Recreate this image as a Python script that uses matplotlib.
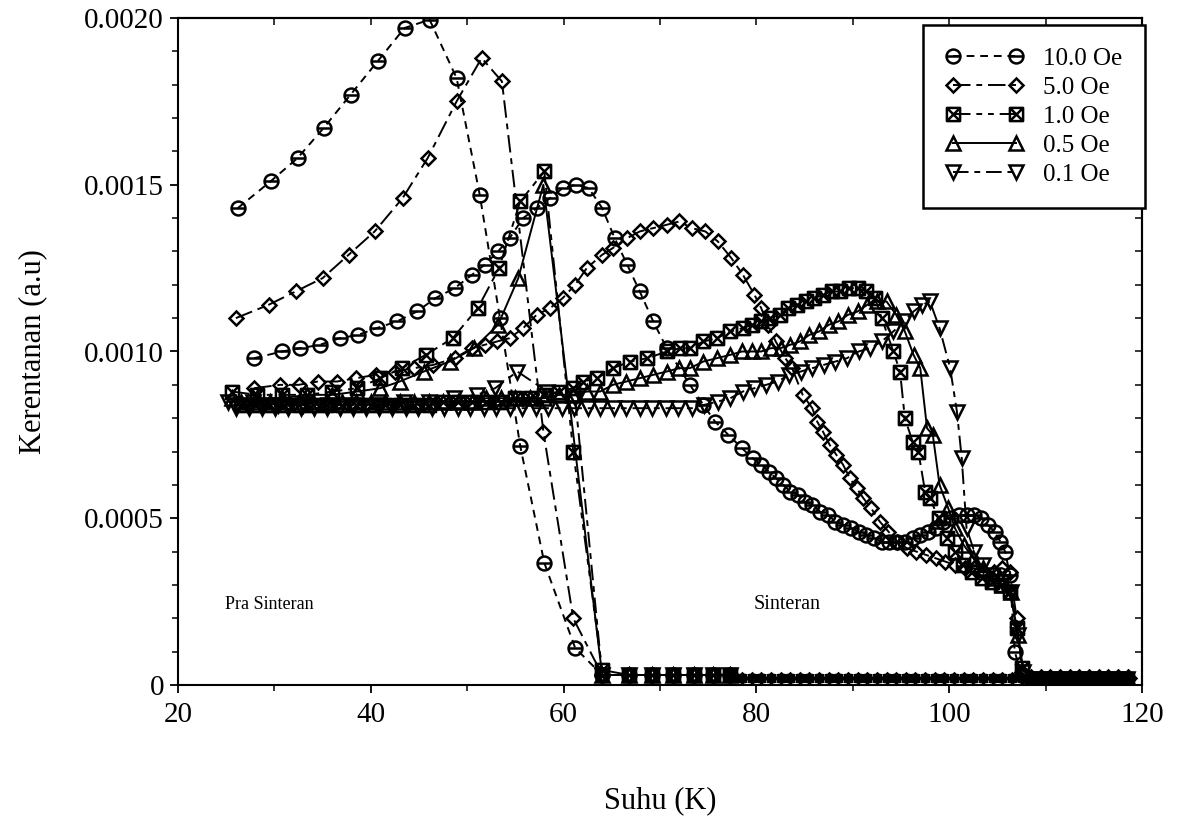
import numpy as np
import matplotlib
matplotlib.use("Agg")
import matplotlib.pyplot as plt
from matplotlib.path import Path
from matplotlib.ticker import MultipleLocator, FuncFormatter

# ---------------- data (susceptibility values in units of 1e-3 a.u.) ----------------
LABELS = ["10.0 Oe", "5.0 Oe", "1.0 Oe", "0.5 Oe", "0.1 Oe"]

# Pra Sinteran (pre-sintering) curves
PRE_10_T = [26.2, 29.6, 32.4, 35.1, 37.9, 40.7, 43.5, 46.1, 48.9, 51.3, 53.4, 55.5, 58.0, 61.2, 64.0]
PRE_10_Y = [1.43, 1.51, 1.58, 1.67, 1.77, 1.87, 1.97, 1.995, 1.82, 1.47, 1.10, 0.717, 0.366, 0.111, 0.03]

PRE_5_T = [26.0, 29.4, 32.2, 35.0, 37.7, 40.4, 43.3, 45.9, 48.9, 51.5, 53.6, 57.9, 61.0, 64.0]
PRE_5_Y = [1.10, 1.14, 1.18, 1.22, 1.29, 1.36, 1.46, 1.58, 1.75, 1.88, 1.81, 0.76, 0.20, 0.03]

PRE_1_T = [25.6, 28.2, 30.8, 33.4, 36.0, 38.6, 41.0, 43.2, 45.7, 48.5, 51.1, 53.3, 55.5, 58.0, 61.0, 64.0]
PRE_1_Y = [0.88, 0.87, 0.87, 0.87, 0.88, 0.89, 0.92, 0.95, 0.99, 1.04, 1.13, 1.25, 1.45, 1.54, 0.70, 0.045]

PRE_05_T = [25.6, 28.2, 30.8, 33.4, 36.0, 38.6, 41.0, 43.0, 45.5, 48.2, 50.7, 53.2, 55.3, 57.9, 64.0]
PRE_05_Y = [0.86, 0.86, 0.86, 0.87, 0.87, 0.88, 0.89, 0.91, 0.94, 0.97, 1.01, 1.08, 1.22, 1.50, 0.03]

PRE_01_T = [25.2, 27.8, 30.4, 33.0, 35.6, 38.2, 40.8, 43.4, 46.0, 48.6, 51.0, 52.9, 55.2, 58.3, 61.2, 64.0]
PRE_01_Y = [0.85, 0.85, 0.84, 0.84, 0.84, 0.84, 0.84, 0.85, 0.85, 0.86, 0.87, 0.89, 0.94, 0.88, 0.86, 0.03]

PRE_TAIL_T = [66.8, 69.2, 71.4, 73.5, 75.5, 77.3]
PRE_TAIL_Y = [0.03, 0.03, 0.03, 0.03, 0.03, 0.03]

# Sinteran (sintered) curves
S10_T = [27.9, 30.8, 32.7, 34.7, 36.8, 38.7, 40.6, 42.7, 44.8, 46.7,
         48.7, 50.5, 51.8, 53.2, 54.4, 55.8, 57.2, 58.6, 59.9, 61.3,
         62.6, 64.0, 65.3, 66.6, 67.9, 69.3, 70.7, 73.1, 74.5, 75.7,
         77.1, 78.5, 79.6, 80.5, 81.3, 82.0, 82.8, 83.5, 84.3, 85.0,
         85.8, 86.6, 87.4, 88.2, 89.0, 89.8, 90.6, 91.4, 92.2, 93.0,
         93.8, 94.6, 95.4, 96.2, 97.0, 97.8, 98.6, 99.4, 100.2, 101.0,
         101.8, 102.6, 103.3, 104.0, 104.7, 105.3, 105.8, 106.3, 106.8, 107.5]
S10_Y = [0.98, 1.00, 1.01, 1.02, 1.04, 1.05, 1.07, 1.09, 1.12, 1.16,
         1.19, 1.23, 1.26, 1.30, 1.34, 1.40, 1.43, 1.46, 1.49, 1.50,
         1.49, 1.43, 1.34, 1.26, 1.18, 1.09, 1.01, 0.90, 0.84, 0.79,
         0.75, 0.71, 0.68, 0.66, 0.64, 0.62, 0.60, 0.58, 0.57, 0.55,
         0.54, 0.52, 0.51, 0.49, 0.48, 0.47, 0.46, 0.45, 0.44, 0.43,
         0.43, 0.43, 0.43, 0.44, 0.45, 0.46, 0.47, 0.49, 0.50, 0.51,
         0.51, 0.51, 0.50, 0.48, 0.46, 0.43, 0.40, 0.33, 0.10, 0.03]

S5_T = [27.9, 30.6, 32.5, 34.5, 36.5, 38.5, 40.5, 42.5, 44.5, 46.5,
        48.7, 50.5, 51.8, 53.1, 54.4, 55.8, 57.2, 58.6, 59.9, 61.2,
        62.4, 64.0, 65.1, 66.6, 67.9, 69.3, 70.7, 72.0, 73.3, 74.7,
        76.0, 77.4, 78.6, 79.8, 80.5, 81.2, 82.0, 83.0, 83.7, 84.8,
        85.8, 86.3, 86.9, 87.6, 88.3, 89.0, 89.7, 90.4, 91.1, 91.9,
        92.8, 93.7, 94.6, 95.6, 96.6, 97.6, 98.6, 99.6, 100.6, 101.6,
        102.6, 103.6, 104.6, 105.5, 106.3, 107.0, 107.6]
S5_Y = [0.89, 0.90, 0.90, 0.91, 0.91, 0.92, 0.93, 0.94, 0.95, 0.96,
        0.98, 1.01, 1.02, 1.03, 1.04, 1.07, 1.11, 1.13, 1.16, 1.20,
        1.25, 1.29, 1.31, 1.34, 1.36, 1.37, 1.38, 1.39, 1.37, 1.36,
        1.33, 1.28, 1.23, 1.17, 1.13, 1.08, 1.03, 0.98, 0.95, 0.87,
        0.83, 0.79, 0.76, 0.72, 0.69, 0.66, 0.62, 0.59, 0.56, 0.53,
        0.49, 0.46, 0.43, 0.41, 0.40, 0.39, 0.38, 0.37, 0.36, 0.35,
        0.35, 0.34, 0.34, 0.35, 0.34, 0.20, 0.04]

S1_T = [26.5, 28.0, 29.5, 31.0, 32.5, 34.0, 35.5, 37.0, 38.5, 40.0,
        41.5, 43.0, 44.5, 46.0, 47.5, 49.0, 50.5, 52.0, 53.5, 55.0,
        56.5, 58.0, 59.5, 61.0, 62.0, 63.5, 65.1, 66.9, 68.7, 70.7,
        72.1, 73.1, 74.5, 75.9, 77.3, 78.6, 79.5, 80.5, 81.4, 82.4,
        83.3, 84.2, 85.1, 86.0, 86.9, 87.8, 88.7, 89.6, 90.5, 91.4,
        92.3, 93.0, 94.2, 94.9, 95.4, 96.2, 96.8, 97.5, 98.0, 98.9,
        99.8, 100.6, 101.4, 102.4, 103.4, 104.4, 105.4, 106.3, 107.0, 107.6]
S1_Y = [0.84, 0.84, 0.84, 0.84, 0.84, 0.84, 0.84, 0.84, 0.84, 0.84,
        0.84, 0.84, 0.84, 0.84, 0.85, 0.85, 0.85, 0.85, 0.85, 0.86,
        0.86, 0.87, 0.88, 0.89, 0.91, 0.92, 0.95, 0.97, 0.98, 1.00,
        1.01, 1.01, 1.03, 1.04, 1.06, 1.07, 1.08, 1.09, 1.10, 1.11,
        1.13, 1.14, 1.15, 1.16, 1.17, 1.18, 1.18, 1.19, 1.19, 1.18,
        1.16, 1.10, 1.00, 0.94, 0.80, 0.73, 0.70, 0.58, 0.56, 0.50,
        0.44, 0.40, 0.36, 0.34, 0.32, 0.31, 0.30, 0.28, 0.17, 0.05]

S05_T = [26.5, 28.0, 29.5, 31.0, 32.5, 34.0, 35.5, 37.0, 38.5, 40.0,
         41.5, 43.0, 44.5, 46.0, 47.5, 49.0, 50.5, 52.0, 53.5, 55.0,
         56.5, 58.0, 59.5, 61.0, 62.4, 63.8, 65.1, 66.5, 67.9, 69.3,
         70.7, 72.0, 73.1, 74.5, 75.9, 77.3, 78.5, 79.5, 80.5, 81.5,
         82.5, 83.5, 84.5, 85.5, 86.5, 87.5, 88.5, 89.5, 90.5, 91.5,
         92.5, 93.5, 94.5, 95.4, 96.3, 97.0, 97.7, 98.3, 99.0, 99.9,
         100.6, 101.5, 102.5, 103.5, 104.5, 105.5, 106.4, 107.1, 107.7]
S05_Y = [0.85, 0.85, 0.85, 0.85, 0.85, 0.85, 0.85, 0.85, 0.85, 0.85,
         0.85, 0.85, 0.85, 0.85, 0.85, 0.85, 0.85, 0.86, 0.86, 0.86,
         0.86, 0.86, 0.87, 0.87, 0.88, 0.88, 0.90, 0.91, 0.92, 0.93,
         0.94, 0.95, 0.95, 0.97, 0.98, 0.99, 1.00, 1.00, 1.00, 1.01,
         1.01, 1.02, 1.03, 1.05, 1.06, 1.08, 1.09, 1.11, 1.12, 1.14,
         1.15, 1.15, 1.11, 1.06, 0.99, 0.95, 0.77, 0.75, 0.60, 0.53,
         0.47, 0.42, 0.38, 0.35, 0.32, 0.30, 0.28, 0.15, 0.04]

S01_T = [26.0, 27.4, 28.7, 30.1, 31.4, 32.8, 34.1, 35.5, 36.8, 38.2,
         39.5, 40.9, 42.2, 43.6, 44.9, 46.3, 47.6, 49.0, 50.3, 51.7,
         53.0, 54.4, 55.7, 57.1, 58.4, 59.8, 61.1, 62.5, 63.8, 65.2,
         66.5, 67.9, 69.2, 70.6, 71.9, 73.3, 74.6, 76.0, 77.3, 78.6,
         79.8, 81.0, 82.2, 83.4, 84.6, 85.8, 87.0, 88.2, 89.4, 90.6,
         91.8, 93.0, 94.2, 95.3, 96.3, 97.2, 98.0, 99.0, 100.1, 100.8,
         101.3, 101.8, 102.6, 103.5, 104.5, 105.5, 106.4, 107.1, 107.7]
S01_Y = [0.83, 0.83, 0.83, 0.83, 0.83, 0.83, 0.83, 0.83, 0.83, 0.83,
         0.83, 0.83, 0.83, 0.83, 0.83, 0.83, 0.83, 0.83, 0.83, 0.83,
         0.83, 0.83, 0.83, 0.83, 0.83, 0.83, 0.83, 0.83, 0.83, 0.83,
         0.83, 0.83, 0.83, 0.83, 0.83, 0.83, 0.84, 0.85, 0.86, 0.88,
         0.89, 0.90, 0.91, 0.93, 0.94, 0.95, 0.96, 0.97, 0.98, 1.00,
         1.01, 1.03, 1.06, 1.09, 1.12, 1.14, 1.15, 1.07, 0.95, 0.82,
         0.68, 0.47, 0.40, 0.36, 0.33, 0.31, 0.28, 0.15, 0.04]

# baseline (near-zero) points above the transitions
BASE_T = [78.5, 79.5, 80.5, 81.5, 82.5, 83.5, 84.5, 85.5, 86.5, 87.5,
          88.5, 89.5, 90.5, 91.5, 92.5, 93.5, 94.5, 95.5, 96.5, 97.5,
          98.5, 99.5, 100.5, 101.5, 102.5, 103.5, 104.5, 105.5, 106.5, 107.5,
          108.5, 109.5, 110.5, 111.5, 112.5, 113.5, 114.5, 115.5, 116.5, 117.5, 118.5]
BASE_Y = [0.02, 0.02, 0.02, 0.02, 0.02, 0.02, 0.02, 0.02, 0.02, 0.02,
          0.02, 0.02, 0.02, 0.02, 0.02, 0.02, 0.02, 0.02, 0.02, 0.02,
          0.02, 0.02, 0.02, 0.02, 0.02, 0.02, 0.02, 0.02, 0.02, 0.02,
          0.02, 0.02, 0.02, 0.02, 0.02, 0.02, 0.02, 0.02, 0.02, 0.02, 0.02]

UNIT = 1e-3

# ---------------- styling ----------------
plt.rcParams['font.family'] = ['Liberation Serif', 'DejaVu Serif']

CIRC_BAR = Path.make_compound_path(
    Path.unit_circle(),
    Path([[-1, 0], [1, 0]], [Path.MOVETO, Path.LINETO]))
SQ_X = Path.make_compound_path(
    Path([[-1, -1], [1, -1], [1, 1], [-1, 1], [-1, -1]],
         [Path.MOVETO, Path.LINETO, Path.LINETO, Path.LINETO, Path.CLOSEPOLY]),
    Path([[-1, -1], [1, 1]], [Path.MOVETO, Path.LINETO]),
    Path([[-1, 1], [1, -1]], [Path.MOVETO, Path.LINETO]))

STYLES = [
    dict(marker=CIRC_BAR, ms=10, ls=(0, (4, 3))),
    dict(marker='D', ms=7.5, ls=(0, (9, 3, 3, 3))),
    dict(marker=SQ_X, ms=9.5, ls=(0, (9, 3, 3, 3, 3, 3))),
    dict(marker='^', ms=10, ls='-'),
    dict(marker='v', ms=10, ls=(0, (8, 3, 3, 3))),
]

PRE = [(PRE_10_T, PRE_10_Y), (PRE_5_T, PRE_5_Y), (PRE_1_T, PRE_1_Y),
       (PRE_05_T, PRE_05_Y), (PRE_01_T, PRE_01_Y)]
SINT = [(S10_T, S10_Y), (S5_T, S5_Y), (S1_T, S1_Y), (S05_T, S05_Y), (S01_T, S01_Y)]

fig = plt.figure(figsize=(11.81, 8.21), dpi=100)
ax = fig.add_axes([178 / 1181, 1 - 685 / 821, 964 / 1181, 667 / 821])

handles = []
for (pt, py), (st, sy), sty, lab in zip(PRE, SINT, STYLES, LABELS):
    common = dict(color='k', lw=1.4, marker=sty['marker'], mfc='none', mec='k',
                  mew=1.8, ls=sty['ls'])
    h, = ax.plot(pt + PRE_TAIL_T, np.array(py + PRE_TAIL_Y) * UNIT,
                 ms=sty['ms'], label=lab, **common)
    handles.append(h)
    ax.plot(st, np.array(sy) * UNIT, ms=sty['ms'], **common)
    # baselines
    ax.plot([PRE_TAIL_T[-1]] + BASE_T, np.array([PRE_TAIL_Y[-1]] + BASE_Y) * UNIT,
            ms=5, **common)
    tail_t = [t for t in BASE_T if t > 108]
    tail_y = [y for t, y in zip(BASE_T, BASE_Y) if t > 108]
    ax.plot(tail_t, np.array(tail_y) * UNIT, ms=8, **common)

ax.set_xlim(20, 120)
ax.set_ylim(0, 0.0020)

ax.xaxis.set_major_locator(MultipleLocator(20))
ax.xaxis.set_minor_locator(MultipleLocator(10))
ax.yaxis.set_major_locator(MultipleLocator(0.0005))
ax.yaxis.set_minor_locator(MultipleLocator(0.0001))
ax.yaxis.set_major_formatter(FuncFormatter(lambda v, p: '0' if abs(v) < 1e-12 else f'{v:.4f}'))

ax.tick_params(axis='both', which='major', labelsize=21, width=1.3, length=6, direction='out')
ax.tick_params(axis='both', which='minor', width=1.1, length=4, direction='out')
ax.tick_params(axis='x', which='both', pad=6)
ax.tick_params(axis='y', which='both', pad=4)

secx = ax.secondary_xaxis('top')
secx.xaxis.set_major_locator(MultipleLocator(10))
secx.tick_params(direction='in', length=5, width=1.1, labeltop=False)
secy = ax.secondary_yaxis('right')
secy.yaxis.set_major_locator(MultipleLocator(0.0005))
secy.yaxis.set_minor_locator(MultipleLocator(0.0001))
secy.tick_params(which='both', direction='in', length=5, width=1.1, labelright=False)
for sa in (secx, secy):
    for s in sa.spines.values():
        s.set_linewidth(1.5)

for s in ax.spines.values():
    s.set_linewidth(1.5)

ax.set_xlabel('Suhu (K)', fontsize=22)
ax.set_ylabel('Kerentanan (a.u)', fontsize=22)
ax.xaxis.set_label_coords(0.5, -0.152)
ax.yaxis.set_label_coords(-0.136, 0.5)

ax.text(29.5, 0.00024, 'Pra Sinteran', fontsize=13, ha='center', va='center')
ax.text(83.2, 0.00024, 'Sinteran', fontsize=14.5, ha='center', va='center')

leg = ax.legend(handles=handles, loc='upper right', bbox_to_anchor=(1.003, 0.99),
                borderaxespad=0, numpoints=2, handlelength=3.1, fontsize=18,
                fancybox=False, edgecolor='k', framealpha=1, labelspacing=0.26,
                handletextpad=0.8, borderpad=0.9)
leg.get_frame().set_linewidth(1.8)

fig.savefig('out.png', dpi=100)
